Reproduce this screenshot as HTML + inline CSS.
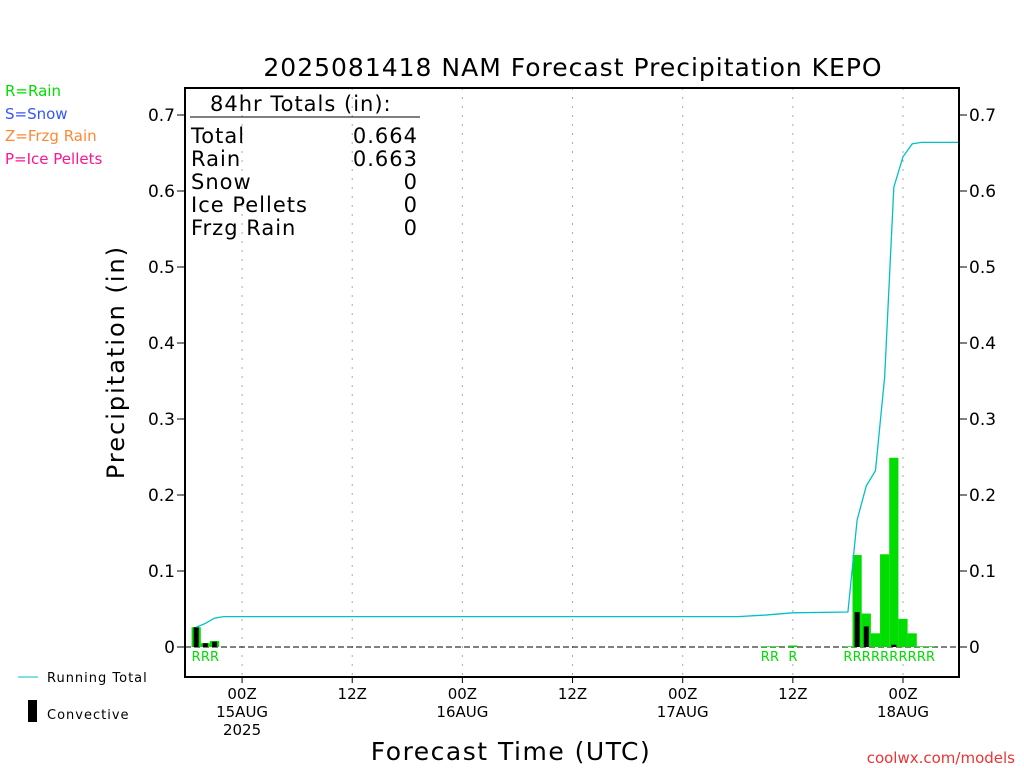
<!DOCTYPE html>
<html><head><meta charset="utf-8"><style>
body{margin:0;background:#fff;}
svg{display:block;font-family:"DejaVu Sans","Liberation Sans",sans-serif;}
</style></head><body>
<svg id="c" width="1024" height="768" xmlns="http://www.w3.org/2000/svg">
<text x="573" y="76" font-size="25" text-anchor="middle" fill="#000" letter-spacing="1">2025081418 NAM Forecast Precipitation KEPO</text>
<text x="5" y="96" font-size="15" fill="#00dd00">R=Rain</text>
<text x="5" y="119" font-size="15" fill="#3355ff">S=Snow</text>
<text x="5" y="141" font-size="15" fill="#ff8833">Z=Frzg Rain</text>
<text x="5" y="164" font-size="15" fill="#ff1493">P=Ice Pellets</text>
<text transform="translate(124,362) rotate(-90)" font-size="24" text-anchor="middle" letter-spacing="2">Precipitation (in)</text>
<text x="511" y="760" font-size="25" text-anchor="middle" letter-spacing="1.5">Forecast Time (UTC)</text>
<text x="1015" y="763" font-size="15" text-anchor="end" fill="#ee3333">coolwx.com/models</text>
<line x1="18" y1="677" x2="38" y2="677" stroke="#00c0c8"/>
<text x="47" y="682" font-size="13" letter-spacing="1">Running Total</text>
<rect x="28" y="700" width="9" height="22" fill="#000"/>
<text x="47" y="719" font-size="13" letter-spacing="1">Convective</text>
<g id="grid"></g><g id="bars"></g><g id="axes"></g>
<g font-size="21" fill="#000" letter-spacing="1">
<text x="210" y="111">84hr Totals (in):</text>
<line x1="190" y1="117" x2="420" y2="117" stroke="#000"/>
<text x="191" y="143">Total</text><text x="418" y="143" text-anchor="end">0.664</text>
<text x="191" y="166">Rain</text><text x="418" y="166" text-anchor="end">0.663</text>
<text x="191" y="189">Snow</text><text x="418" y="189" text-anchor="end">0</text>
<text x="191" y="212">Ice Pellets</text><text x="418" y="212" text-anchor="end">0</text>
<text x="191" y="235">Frzg Rain</text><text x="418" y="235" text-anchor="end">0</text>
</g>
</svg>
<script>
const rainHours=[1,2,3,63,64,66,72,73,74,75,76,77,78,79,80,81];
const rainValues=[0.026,0.005,0.008,0.001,0.001,0.002,0.001,0.121,0.044,0.018,0.122,0.249,0.037,0.018,0.001,0.001];
const convHours=[1,2,3,73,74,77];
const convValues=[0.026,0.005,0.007,0.046,0.027,0.003];
const totalHours=[1,2,3,4,60,63,64,66,72,73,74,75,76,77,78,79,80,84];
const totalValues=[0.026,0.031,0.038,0.040,0.040,0.042,0.043,0.045,0.046,0.167,0.212,0.232,0.355,0.605,0.645,0.662,0.664,0.664];
const yTicks=[0,0.1,0.2,0.3,0.4,0.5,0.6,0.7];
const xTickHours=[6,18,30,42,54,66,78];
const xTickLabels=[["00Z","15AUG","2025"],["12Z"],["00Z","16AUG"],["12Z"],["00Z","17AUG"],["12Z"],["00Z","18AUG"]];
const NS="http://www.w3.org/2000/svg";
const L=185,R=959,T=88,B=677;
const X=h=>187+h*(903-187)/78;
const Y=v=>647-v*760;
const bw=9.18;
function mk(p,t,a){const e=document.createElementNS(NS,t);for(const k in a)e.setAttribute(k,a[k]);p.appendChild(e);return e;}
const grid=document.getElementById('grid'),bars=document.getElementById('bars'),axes=document.getElementById('axes');
xTickHours.forEach((h,i)=>{
 const g=mk(grid,'line',{x1:X(h),x2:X(h),y1:T,y2:B,stroke:'#aaa','stroke-dasharray':'2,7'});
 
 
 const t=mk(axes,'line',{x1:X(h),x2:X(h),y1:B,y2:B+6,stroke:'#000'});
 
 
 xTickLabels[i].forEach((s,j)=>{
  const tx=mk(axes,'text',{x:X(h),y:699+j*18,'font-size':15,'text-anchor':'middle'});tx.textContent=s;
  
  
 });
});
mk(grid,'line',{x1:L,x2:R,y1:Y(0),y2:Y(0),stroke:'#000','stroke-dasharray':'6,3'});
rainHours.forEach((h,i)=>{
 const r=mk(bars,'rect',{x:X(h)-bw/2,y:Y(rainValues[i]),width:bw,height:Y(0)-Y(rainValues[i]),fill:'#00dd00'});
 
 
 const t=mk(bars,'text',{x:X(h),y:661,'font-size':13,'text-anchor':'middle',fill:'#00dd00'});t.textContent='R';
 
 
});
convHours.forEach((h,i)=>{
 const r=mk(bars,'rect',{x:X(h)-2.5,y:Y(convValues[i]),width:5,height:Y(0)-Y(convValues[i]),fill:'#000'});
 
 
});
const pl=mk(bars,'polyline',{points:totalHours.map((h,i)=>X(h)+','+Y(totalValues[i])).join(' '),fill:'none',stroke:'#00c0c8','stroke-width':1.3});


const fr=mk(axes,'rect',{x:L,y:T,width:R-L,height:B-T,fill:'none',stroke:'#000','stroke-width':2});


yTicks.forEach(v=>{
 [[L-8,L],[R,R+8]].forEach(([a,b])=>{const l=mk(axes,'line',{x1:a,x2:b,y1:Y(v),y2:Y(v),stroke:'#000'});
  
  });
 const s=v===0?'0':v.toFixed(1);
 const t1=mk(axes,'text',{x:175,y:Y(v)+6,'font-size':17,'text-anchor':'end'});t1.textContent=s;
 
 
 const t2=mk(axes,'text',{x:969,y:Y(v)+6,'font-size':17});t2.textContent=s;
 
 
});
</script>
</body></html>
